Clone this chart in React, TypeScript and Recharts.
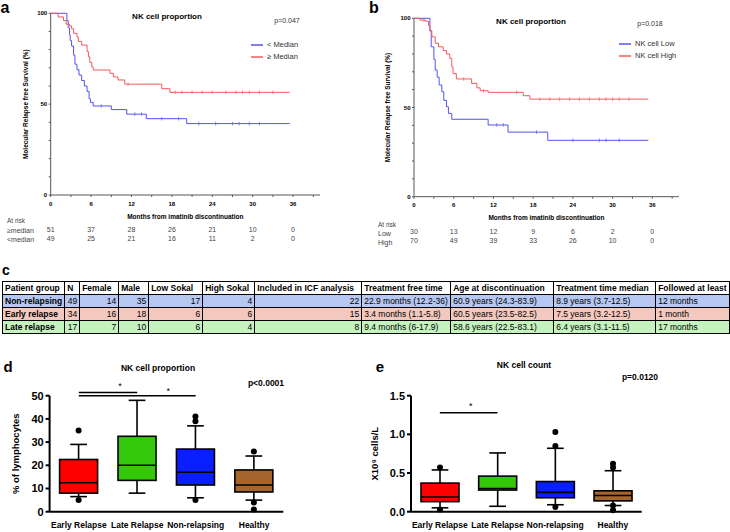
import React from 'react';
import {
  LineChart,
  Line,
  XAxis,
  YAxis,
  Legend,
  ComposedChart,
  Bar,
  ReferenceLine,
} from 'recharts';

// ---- panels a / b : Kaplan-Meier ----
const MONTH_TICKS = [0, 3, 6, 9, 12, 15, 18, 21, 24, 27, 30, 33, 36, 39];
const LABELED_MONTHS = [0, 6, 12, 18, 24, 30, 36];
const SURV_TICKS = [0, 10, 20, 30, 40, 50, 60, 70, 80, 90, 100];

// [month, survival %]
const aBelowSteps = [
  [0, 100], [2.4, 96], [2.6, 92], [2.8, 88], [2.9, 85], [3.1, 82], [3.4, 77], [3.6, 72],
  [3.9, 69], [4.2, 66], [4.6, 63], [5.0, 60], [5.4, 57], [5.7, 53], [5.9, 51], [6.3, 49],
  [9.0, 47], [11.3, 44.5], [14.2, 42], [20.2, 39.3], [35.5, 39.3],
];
const aAboveSteps = [
  [0, 100], [1.1, 98], [1.9, 96], [2.3, 94], [2.8, 93], [3.1, 91.5], [3.4, 89], [3.9, 87],
  [4.1, 84.5], [4.6, 82.5], [5.4, 79], [5.6, 76], [5.8, 73], [6.1, 70.5], [6.3, 68.8],
  [8.8, 67], [9.3, 65], [10.0, 63.3], [11.0, 61], [16.5, 58.5], [17.7, 56.5], [35.5, 56.5],
];
const aBelowCensor = [7.5, 12.5, 13.5, 16.5, 19, 22, 24.5, 27, 28, 29.5, 31];
const aAboveCensor = [11.5, 18.5, 19.5, 21, 22.5, 24, 26, 27.5, 28.5, 29.5, 31, 33];
const aAtRiskAbove = [51, 37, 28, 26, 21, 10, 0];
const aAtRiskBelow = [49, 25, 21, 16, 11, 2, 0];

const bLowSteps = [
  [0, 100], [2.4, 93], [2.6, 84], [3.0, 77], [3.2, 71], [3.5, 67], [3.8, 62.6], [4.2, 58.8],
  [4.5, 54], [4.9, 50.4], [5.2, 46.7], [5.7, 43.4], [11.2, 40.2], [14.2, 36.2], [20.2, 31.6],
  [35.4, 31.6],
];
const bHighSteps = [
  [0, 100], [0.9, 99], [1.7, 98.4], [2.2, 96], [2.4, 93], [2.7, 89.6], [3.2, 86], [3.7, 84],
  [4.4, 82], [4.9, 80], [5.4, 77.5], [5.7, 72.8], [5.9, 69], [6.4, 66], [8.7, 63.5],
  [9.5, 61], [10.0, 59.4], [11.2, 58.5], [16.5, 56.6], [17.5, 54.7], [35.4, 54.7],
];
const bLowCensor = [12.5, 13.5, 18.5, 24, 28, 29, 31];
const bHighCensor = [1.5, 7.5, 10.5, 15.5, 19, 20.5, 22, 23.5, 25, 26.5, 28, 29, 30, 31, 32.5];
const bAtRiskLow = [30, 13, 12, 9, 6, 2, 0];
const bAtRiskHigh = [70, 49, 39, 33, 26, 10, 0];

// ---- panel c : table ----
const TABLE_HEAD = [
  'Patient group', 'N', 'Female', 'Male', 'Low Sokal', 'High Sokal', 'Included in ICF analysis',
  'Treatment free time', 'Age at discontinuation', 'Treatment time median', 'Followed at least',
];
const TABLE_ROWS = [
  ['Non-relapsing', '49', '14', '35', '17', '4', '22', '22.9 months (12.2-36)', '60.9 years (24.3-83.9)', '8.9 years (3.7-12.5)', '12 months'],
  ['Early relapse', '34', '16', '18', '6', '6', '15', '3.4 months (1.1-5.8)', '60.5 years (23.5-82.5)', '7.5 years (3.2-12.5)', '1 month'],
  ['Late relapse', '17', '7', '10', '6', '4', '8', '9.4 months (6-17.9)', '58.6 years (22.5-83.1)', '6.4 years (3.1-11.5)', '17 months'],
];
const COL_WIDTHS = [62, 15, 39, 30, 54, 52, 107, 89, 103, 102, 73];
const ROW_COLORS = ['#b6c7f1', '#f3c8be', '#c4f3be'];

// ---- panels d / e : box plots ----
const groups = ['Early Relapse', 'Late Relapse', 'Non-relapsing', 'Healthy'];
const groupColors = ['#ff0000', '#33c90a', '#0a1fff', '#a5652c'];

const propMin = [6.5, 8, 6, 5];
const propQ1 = [8, 13.5, 11.5, 8.5];
const propMedian = [12.5, 20, 17, 11.5];
const propQ3 = [22.5, 32.5, 27, 18];
const propMax = [29, 48, 37, 24];
const propOutliers = [[35, 5], [], [41, 39, 5], [26, 4, 1]];

const countMin = [0.05, 0.07, 0.09, 0.08];
const countQ1 = [0.13, 0.28, 0.18, 0.14];
const countMedian = [0.19, 0.3, 0.25, 0.21];
const countQ3 = [0.37, 0.46, 0.39, 0.27];
const countMax = [0.54, 0.76, 0.82, 0.53];
const countOutliers = [[0.57, 0.03], [], [1.03, 0.85, 0.06], [0.62, 0.57, 0.08, 0.02]];

const BLUE = '#5353f2';
const RED = '#f25a5a';

function kmSeries(steps: number[][], censors: number[]) {
  const pts: { m: number; s: number; c?: boolean }[] = steps.map(([m, s]) => ({ m, s }));
  censors.forEach((m) => {
    let s = steps[0][1];
    for (const [sm, sv] of steps) if (sm <= m) s = sv;
    pts.push({ m, s, c: true });
  });
  return pts.sort((p, q) => p.m - q.m);
}

function boxData(min: number[], q1: number[], med: number[], q3: number[], max: number[], out: number[][]) {
  return groups.map((g, i) => ({ group: g, min: min[i], q1: q1[i], median: med[i], q3: q3[i], max: max[i], outliers: out[i] }));
}

const propData = boxData(propMin, propQ1, propMedian, propQ3, propMax, propOutliers);
const countData = boxData(countMin, countQ1, countMedian, countQ3, countMax, countOutliers);

const CensorTick = (p: any) =>
  p.payload && p.payload.c ? (
    <line key={`c-${p.index}`} x1={p.cx} x2={p.cx} y1={p.cy - 1.8} y2={p.cy + 1.8} stroke={p.stroke} strokeWidth={0.7} />
  ) : (
    <g key={`c-${p.index}`} />
  );

const BoxShape = (props: any) => {
  const { x, y, width, height, payload, index } = props;
  const top = Math.min(y, y + height);
  const bot = Math.max(y, y + height);
  const { min, max, q1, median, q3, outliers } = payload;
  const py = (v: number) => top + ((max - v) / (max - min)) * (bot - top);
  const cx = x + width / 2;
  const cap = width * 0.22;
  return (
    <g>
      <line x1={cx} x2={cx} y1={py(max)} y2={py(q3)} stroke="#000" strokeWidth={1.6} />
      <line x1={cx} x2={cx} y1={py(q1)} y2={py(min)} stroke="#000" strokeWidth={1.6} />
      <line x1={cx - cap} x2={cx + cap} y1={py(max)} y2={py(max)} stroke="#000" strokeWidth={1.6} />
      <line x1={cx - cap} x2={cx + cap} y1={py(min)} y2={py(min)} stroke="#000" strokeWidth={1.6} />
      <rect x={x} y={py(q3)} width={width} height={py(q1) - py(q3)} fill={groupColors[index]} stroke="#000" strokeWidth={1.6} />
      <line x1={x} x2={x + width} y1={py(median)} y2={py(median)} stroke="#000" strokeWidth={1.6} />
      {outliers.map((v: number, k: number) => (
        <circle key={k} cx={cx} cy={py(v)} r={3} fill="#000" />
      ))}
    </g>
  );
};

const T = ({ x, y, size, bold, children, anchor = 'middle', color = '#000' }: any) => (
  <div
    style={{
      position: 'absolute',
      left: x,
      top: y,
      fontSize: size,
      fontWeight: bold ? 'bold' : 'normal',
      color,
      lineHeight: 1,
      whiteSpace: 'nowrap',
      transform: anchor === 'middle' ? 'translate(-50%, -50%)' : 'translate(0, -50%)',
    }}
  >
    {children}
  </div>
);

const tickKm = { fontSize: 6, fontWeight: 'bold', fill: '#000' };
const riskTick = { fontSize: 7, fill: '#444' };
const riskAnchors = LABELED_MONTHS.map((m) => ({ m, s: 0 }));

function KmChart(props: any) {
  const { width, yWidth, marginTop, marginRight, plotBottom, s1, s2, n1, n2, risk1, risk2, legendLeft, legendTop } = props;
  const mainH = 23.5;
  const order = [n1, n2];
  return (
    <LineChart width={width} height={plotBottom + mainH + 14 + 10} margin={{ top: marginTop, right: marginRight, bottom: 0, left: 0 }}>
      <XAxis
        dataKey="m"
        type="number"
        domain={[0, 40]}
        ticks={MONTH_TICKS}
        tickFormatter={(v: number) => (LABELED_MONTHS.includes(v) ? String(v) : '')}
        allowDataOverflow
        height={mainH}
        tickSize={2}
        tickMargin={4.5}
        tick={tickKm}
        stroke="#555"
        label={{ value: 'Months from imatinib discontinuation', position: 'insideBottom', offset: 0, fontSize: 6.5, fontWeight: 'bold', fill: '#000' }}
      />
      <XAxis
        xAxisId="r1"
        dataKey="m"
        type="number"
        domain={[0, 40]}
        ticks={LABELED_MONTHS}
        tickFormatter={(v: number) => String(risk1[LABELED_MONTHS.indexOf(v)])}
        axisLine={false}
        tickLine={false}
        tickSize={0}
        tickMargin={9}
        height={14}
        tick={riskTick}
      />
      <XAxis
        xAxisId="r2"
        dataKey="m"
        type="number"
        domain={[0, 40]}
        ticks={LABELED_MONTHS}
        tickFormatter={(v: number) => String(risk2[LABELED_MONTHS.indexOf(v)])}
        axisLine={false}
        tickLine={false}
        tickSize={0}
        tickMargin={4}
        height={10}
        tick={riskTick}
      />
      <YAxis
        type="number"
        domain={[0, 100]}
        ticks={SURV_TICKS}
        tickFormatter={(v: number) => (v % 50 === 0 ? String(v) : '')}
        width={yWidth}
        tickSize={2}
        tickMargin={1.5}
        tick={tickKm}
        stroke="#555"
        label={{ value: 'Molecular Relapse free Survival (%)', angle: -90, position: 'center', fontSize: 6.5, fontWeight: 'bold', fill: '#000' }}
      />
      <Legend
        layout="vertical"
        align="center"
        verticalAlign="middle"
        iconType="plainline"
        iconSize={12}
        itemSorter={(item: any) => order.indexOf(item.value)}
        wrapperStyle={{ left: legendLeft, top: legendTop, width: 90, whiteSpace: 'nowrap', fontSize: 7.5, lineHeight: '10px' }}
        formatter={(v: string) => <span style={{ color: '#333' }}>{v}</span>}
      />
      <Line data={s1} dataKey="s" name={n1} type="stepAfter" stroke={BLUE} strokeWidth={1} dot={CensorTick} activeDot={false} isAnimationActive={false} />
      <Line data={s2} dataKey="s" name={n2} type="stepAfter" stroke={RED} strokeWidth={1} dot={CensorTick} activeDot={false} isAnimationActive={false} />
      <Line xAxisId="r1" data={riskAnchors} dataKey="s" stroke="none" dot={false} activeDot={false} legendType="none" isAnimationActive={false} />
      <Line xAxisId="r2" data={riskAnchors} dataKey="s" stroke="none" dot={false} activeDot={false} legendType="none" isAnimationActive={false} />
    </LineChart>
  );
}

function BoxChart(props: any) {
  const { data, width, yWidth, marginRight, domain, ticks, fmt, yLabel, children } = props;
  return (
    <ComposedChart width={width} height={152} data={data} margin={{ top: 15.7, right: marginRight, bottom: 0, left: 0 }}>
      <XAxis
        dataKey="group"
        type="category"
        interval={0}
        height={20.3}
        axisLine={{ stroke: '#000', strokeWidth: 2 }}
        tickLine={false}
        tickSize={0}
        tickMargin={10}
        tick={{ fontSize: 8.5, fontWeight: 'bold', fill: '#000' }}
      />
      <YAxis
        type="number"
        domain={domain}
        ticks={ticks}
        tickFormatter={fmt}
        width={yWidth}
        axisLine={{ stroke: '#000', strokeWidth: 2 }}
        tickLine={{ stroke: '#000', strokeWidth: 2 }}
        tickSize={4}
        tickMargin={2}
        tick={{ fontSize: 11, fontWeight: 'bold', fill: '#000' }}
        label={{ value: yLabel, angle: -90, position: 'center', fontSize: 9.5, fontWeight: 'bold', fill: '#000' }}
      />
      <Bar dataKey={(d: any) => [d.min, d.max]} barSize={38} shape={BoxShape} isAnimationActive={false} />
      {children}
    </ComposedChart>
  );
}

export default function App() {
  const aBelow = kmSeries(aBelowSteps, aBelowCensor);
  const aAbove = kmSeries(aAboveSteps, aAboveCensor);
  const bLow = kmSeries(bLowSteps, bLowCensor);
  const bHigh = kmSeries(bHighSteps, bHighCensor);

  return (
    <div
      style={{
        position: 'absolute',
        left: 0,
        top: 0,
        width: 730,
        height: 532,
        background: '#fff',
        overflow: 'hidden',
        fontFamily: '"Liberation Sans", Arial, sans-serif',
      }}
    >
      {/* a */}
      <div style={{ position: 'absolute', left: 0, top: 0 }}>
        <KmChart
          width={330}
          yWidth={50.7}
          marginTop={13.3}
          marginRight={10}
          plotBottom={195}
          s1={aBelow}
          s2={aAbove}
          n1="< Median"
          n2="≥ Median"
          risk1={aAtRiskAbove}
          risk2={aAtRiskBelow}
          legendLeft={251}
          legendTop={39}
        />
      </div>
      <T x={5} y={8} size={16} bold>a</T>
      <T x={167} y={17} size={8} bold>NK cell proportion</T>
      <T x={287} y={20} size={7} color="#333">p=0.047</T>
      <T x={7} y={221} size={6.5} anchor="start" color="#444">At risk</T>
      <T x={7} y={230} size={7} anchor="start" color="#444">≥median</T>
      <T x={7} y={239} size={7} anchor="start" color="#444">&lt;median</T>

      {/* b */}
      <div style={{ position: 'absolute', left: 362, top: 0 }}>
        <KmChart
          width={323}
          yWidth={52}
          marginTop={18.3}
          marginRight={6.2}
          plotBottom={196.7}
          s1={bLow}
          s2={bHigh}
          n1="NK cell Low"
          n2="NK cell High"
          risk1={bAtRiskLow}
          risk2={bAtRiskHigh}
          legendLeft={257}
          legendTop={38}
        />
      </div>
      <T x={374} y={8} size={16} bold>b</T>
      <T x={531} y={21.7} size={8} bold>NK cell proportion</T>
      <T x={650} y={23} size={7} color="#333">p=0.018</T>
      <T x={378} y={225} size={6.5} anchor="start" color="#444">At risk</T>
      <T x={378} y={233} size={7} anchor="start" color="#444">Low</T>
      <T x={378} y={242} size={7} anchor="start" color="#444">High</T>

      {/* c */}
      <T x={2} y={270} size={14} bold anchor="start">c</T>
      <table
        style={{
          position: 'absolute',
          left: 2,
          top: 281,
          borderCollapse: 'collapse',
          tableLayout: 'fixed',
          fontSize: 8.5,
          lineHeight: '10px',
          fontFamily: '"Liberation Sans", Arial, sans-serif',
        }}
      >
        <colgroup>
          {COL_WIDTHS.map((w, i) => (
            <col key={i} style={{ width: w }} />
          ))}
        </colgroup>
        <tbody>
          <tr style={{ height: 13, background: '#fff' }}>
            {TABLE_HEAD.map((h, i) => (
              <td key={i} style={{ border: '1.5px solid #000', padding: '0 2px', fontWeight: 'bold', whiteSpace: 'nowrap', overflow: 'hidden' }}>
                {h}
              </td>
            ))}
          </tr>
          {TABLE_ROWS.map((r, ri) => (
            <tr key={ri} style={{ height: 13, background: ROW_COLORS[ri] }}>
              {r.map((c, ci) => (
                <td
                  key={ci}
                  style={{
                    border: '1.5px solid #000',
                    padding: '0 2px',
                    whiteSpace: 'nowrap',
                    overflow: 'hidden',
                    fontWeight: ci === 0 ? 'bold' : 'normal',
                    textAlign: ci >= 1 && ci <= 6 ? 'right' : 'left',
                  }}
                >
                  {c}
                </td>
              ))}
            </tr>
          ))}
        </tbody>
      </table>

      {/* d */}
      <div style={{ position: 'absolute', left: -19.3, top: 380 }}>
        <BoxChart
          data={propData}
          width={309.3}
          yWidth={68.6}
          marginRight={7}
          domain={[0, 50]}
          ticks={[0, 10, 20, 30, 40, 50]}
          fmt={(v: number) => String(v)}
          yLabel="% of lymphocytes"
        >
          <ReferenceLine
            segment={[{ x: 'Early Relapse', y: 51.4 }, { x: 'Late Relapse', y: 51.4 }]}
            stroke="#000"
            strokeWidth={1.5}
            ifOverflow="visible"
            label={{ value: '*', position: 'top', offset: 3, dx: 12, fontSize: 9, fill: '#000' }}
          />
          <ReferenceLine
            segment={[{ x: 'Early Relapse', y: 50 }, { x: 'Non-relapsing', y: 50 }]}
            stroke="#000"
            strokeWidth={1.5}
            ifOverflow="visible"
            label={{ value: '*', position: 'top', offset: 2, dx: 31, fontSize: 9, fill: '#000' }}
          />
        </BoxChart>
      </div>
      <T x={8} y={366} size={15} bold>d</T>
      <T x={158} y={368} size={8.5} bold>NK cell proportion</T>
      <T x={266} y={382.6} size={8.5} bold>p&lt;0.0001</T>

      {/* e */}
      <div style={{ position: 'absolute', left: 339, top: 380 }}>
        <BoxChart
          data={countData}
          width={311}
          yWidth={72}
          marginRight={8.3}
          domain={[0, 1.5]}
          ticks={[0, 0.5, 1, 1.5]}
          fmt={(v: number) => v.toFixed(1)}
          yLabel="X10⁹ cells/L"
        >
          <ReferenceLine
            segment={[{ x: 'Early Relapse', y: 1.28 }, { x: 'Late Relapse', y: 1.28 }]}
            stroke="#000"
            strokeWidth={1.5}
            ifOverflow="visible"
            label={{ value: '*', position: 'top', offset: 4, dx: 2, fontSize: 9, fill: '#000' }}
          />
        </BoxChart>
      </div>
      <T x={380} y={366} size={15} bold>e</T>
      <T x={524} y={364.5} size={8.5} bold>NK cell count</T>
      <T x={640} y={377} size={8.5} bold>p=0.0120</T>
    </div>
  );
}
